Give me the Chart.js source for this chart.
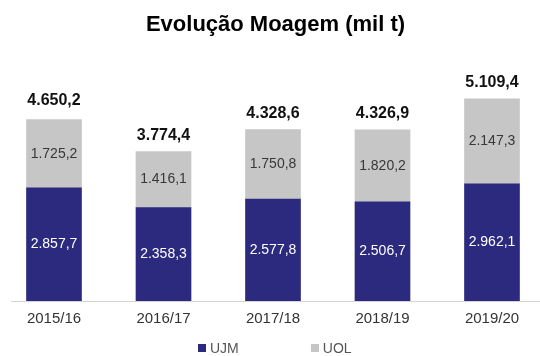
<!DOCTYPE html>
<html lang="pt">
<head>
<meta charset="utf-8">
<title>Evolução Moagem</title>
<script src="https://cdn.jsdelivr.net/npm/chart.js@4.4.1/dist/chart.umd.min.js"></script>
<style>
    html, body { margin: 0; padding: 0; background: #fff; }
    #wrap { position: relative; width: 540px; height: 356px; }
    #moagemLegend {
        position: absolute; left: 198px; top: 340px;
        display: flex; align-items: center; gap: 72px;
        font: 14px "Liberation Sans", Arial, sans-serif; color: #555;
    }
    #moagemLegend span.item { display: flex; align-items: center; }
    #moagemLegend span.dot { width: 8px; height: 8px; margin-right: 4px; display: inline-block; }
</style>
</head>
<body>
<div id="wrap">
    <canvas id="moagemChart" width="540" height="356"></canvas>
    <div id="moagemLegend"></div>
</div>
<script>
const safras = ['2015/16', '2016/17', '2017/18', '2018/19', '2019/20'];
const ujm = [2857.7, 2358.3, 2577.8, 2506.7, 2962.1];
const uol = [1725.2, 1416.1, 1750.8, 1820.2, 2147.3];
const totais = [4650.2, 3774.4, 4328.6, 4326.9, 5109.4];

const FONT = '"Liberation Sans", Arial, sans-serif';

// 1234.5 -> "1.234,5"
function fmt(v) {
    const [int, dec] = v.toFixed(1).split('.');
    return int.replace(/\B(?=(\d{3})+(?!\d))/g, '.') + ',' + dec;
}

// Values inside each segment + total on top of each column
const valueLabels = {
    id: 'valueLabels',
    afterDatasetsDraw(chart) {
        const ctx = chart.ctx;
        ctx.save();
        ctx.textAlign = 'center';
        ctx.textBaseline = 'middle';
        chart.data.datasets.forEach((ds, di) => {
            const meta = chart.getDatasetMeta(di);
            ctx.font = '14px ' + FONT;
            ctx.fillStyle = ds.labelColor;
            meta.data.forEach((bar, i) => {
                const y = (bar.y + bar.base) / 2;
                ctx.fillText(fmt(ds.data[i].y), bar.x, y);
            });
        });
        const topMeta = chart.getDatasetMeta(chart.data.datasets.length - 1);
        const yScale = chart.scales.y;
        ctx.font = 'bold 16px ' + FONT;
        ctx.fillStyle = '#111';
        topMeta.data.forEach((bar, i) => {
            ctx.fillText(fmt(totais[i]), bar.x, yScale.getPixelForValue(totais[i]) - 16);
        });
        ctx.restore();
    }
};

const ctx = document.getElementById('moagemChart').getContext('2d');
const chart = new Chart(ctx, {
    type: 'bar',
    data: {
        datasets: [
            {
                label: 'UJM',
                data: ujm.map((v, i) => ({ x: i, y: v })),
                backgroundColor: '#2c2a7e',
                labelColor: '#ffffff',
                barThickness: 55
            },
            {
                label: 'UOL',
                data: uol.map((v, i) => ({ x: i, y: v })),
                backgroundColor: '#c6c6c6',
                labelColor: '#383838',
                barThickness: 55
            }
        ]
    },
    options: {
        responsive: false,
        animation: false,
        layout: { padding: { left: 11, right: 0, top: 0, bottom: 19 } },
        plugins: {
            legend: { display: false },
            tooltip: { enabled: false },
            title: {
                display: true,
                text: 'Evolução Moagem (mil t)',
                color: '#000',
                font: { family: FONT, size: 22, weight: 'bold' },
                padding: { top: 12, bottom: 18 }
            }
        },
        scales: {
            x: {
                type: 'linear',
                stacked: true,
                offset: false,
                min: -0.3927,
                max: 4.4384,
                afterBuildTicks: (axis) => {
                    axis.ticks = safras.map((s, i) => ({ value: i }));
                },
                grid: { display: false, drawTicks: false },
                border: { display: true, color: '#d4d4d4', width: 1 },
                ticks: {
                    color: '#333',
                    padding: 9,
                    font: { family: FONT, size: 15 },
                    callback: (v) => safras[v] ?? ''
                }
            },
            y: {
                stacked: true,
                display: false,
                min: 0,
                max: 6180
            }
        }
    },
    plugins: [valueLabels]
});

// Legend built from the datasets
const legendEl = document.getElementById('moagemLegend');
chart.data.datasets.forEach((ds) => {
    const item = document.createElement('span');
    item.className = 'item';
    const dot = document.createElement('span');
    dot.className = 'dot';
    dot.style.backgroundColor = ds.backgroundColor;
    item.appendChild(dot);
    item.appendChild(document.createTextNode(ds.label));
    legendEl.appendChild(item);
});
</script>
</body>
</html>
